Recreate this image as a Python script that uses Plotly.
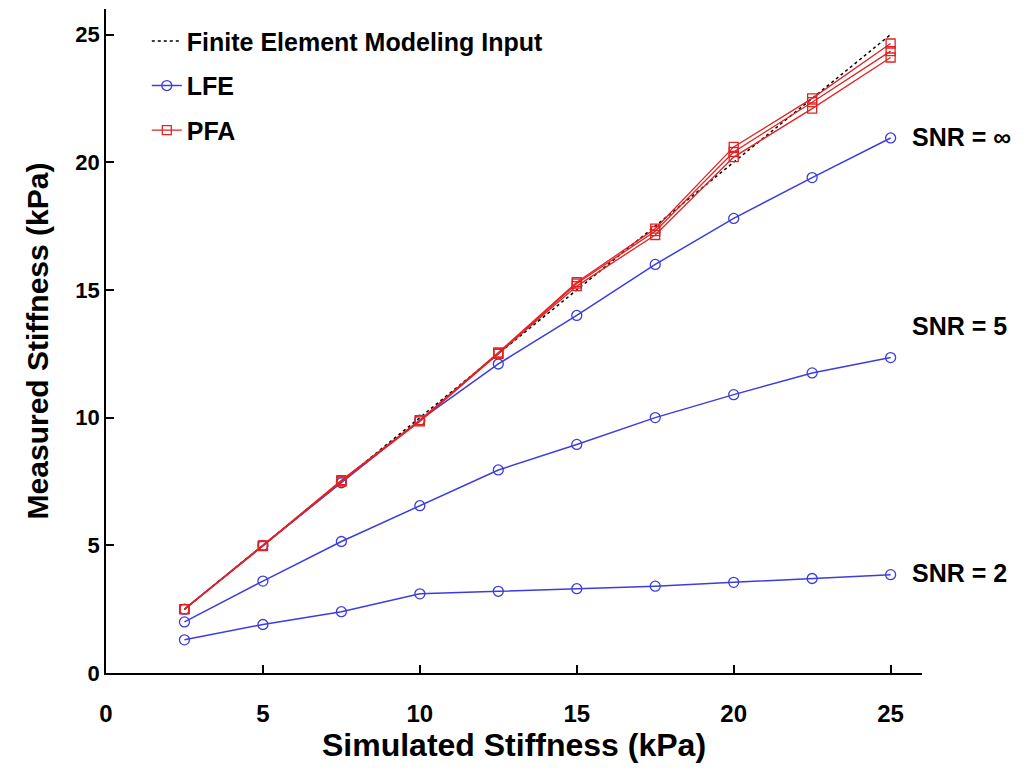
import plotly.graph_objects as go

sim = [2.5, 5, 7.5, 10, 12.5, 15, 17.5, 20, 22.5, 25]
fem_input = [2.5, 5, 7.5, 10, 12.5, 15, 17.5, 20, 22.5, 25]

lfe_inf = [2.5, 5.0, 7.45, 9.9, 12.1, 14.0, 16.0, 17.8, 19.4, 20.95]
lfe_5 = [2.0, 3.6, 5.15, 6.55, 7.95, 8.95, 10.0, 10.9, 11.75, 12.35]
lfe_2 = [1.3, 1.9, 2.4, 3.1, 3.2, 3.3, 3.4, 3.55, 3.7, 3.85]

pfa_inf = [2.5, 5.0, 7.55, 9.9, 12.55, 15.3, 17.4, 20.6, 22.5, 24.65]
pfa_5 = [2.5, 4.98, 7.5, 9.9, 12.5, 15.25, 17.3, 20.4, 22.35, 24.35]
pfa_2 = [2.5, 4.97, 7.5, 9.85, 12.5, 15.15, 17.15, 20.2, 22.1, 24.1]

snr_labels = ["SNR = \u221e", "SNR = 5", "SNR = 2"]
snr_label_y = [21.0, 13.6, 3.9]

tick_vals = [0, 5, 10, 15, 20, 25]

BLUE = "rgb(60,60,225)"
RED = "rgb(225,35,35)"
FONT = "Liberation Sans, Arial, sans-serif"

fig = go.Figure()

fig.add_trace(go.Scatter(
    x=sim, y=fem_input, mode="lines", name="<b>Finite Element Modeling Input</b>",
    line=dict(color="black", width=1.5, dash="dot"), legendgroup="a", legendrank=1))

for i, ys in enumerate([lfe_inf, lfe_5, lfe_2]):
    fig.add_trace(go.Scatter(
        x=sim, y=ys, mode="lines+markers", name="<b>LFE</b>",
        line=dict(color=BLUE, width=1.5),
        marker=dict(symbol="circle-open", size=10, color=BLUE, line=dict(width=1.3)),
        showlegend=(i == 0), legendgroup="b", legendrank=2))

for i, ys in enumerate([pfa_inf, pfa_5, pfa_2]):
    fig.add_trace(go.Scatter(
        x=sim, y=ys, mode="lines+markers", name="<b>PFA</b>",
        line=dict(color=RED, width=1.3),
        marker=dict(symbol="square-open", size=9, color=RED, line=dict(width=1.3)),
        showlegend=(i == 0), legendgroup="c", legendrank=3))

for txt, yy in zip(snr_labels, snr_label_y):
    fig.add_annotation(x=1.0, xref="paper", xanchor="left", xshift=-12,
                       y=yy, yref="y", text="<b>" + txt + "</b>", showarrow=False,
                       font=dict(family=FONT, size=25, color="black"))

fig.update_layout(
    width=1030, height=770,
    margin=dict(l=106, r=108, t=9, b=97),
    paper_bgcolor="white", plot_bgcolor="white",
    font=dict(family=FONT, color="black"),
    showlegend=True,
    legend=dict(x=0.05, y=0.986, xanchor="left", yanchor="top",
                bgcolor="rgba(0,0,0,0)", tracegroupgap=9,
                font=dict(family=FONT, size=25, color="black"),
                traceorder="grouped"),
    xaxis=dict(range=[0, 26], tickvals=tick_vals,
               ticktext=["<b>%d</b>" % v for v in tick_vals],
               ticks="inside", ticklen=8, tickwidth=1.5, tickcolor="black",
               showline=True, linecolor="black", linewidth=1.5,
               showgrid=False, zeroline=False, ticklabelstandoff=18,
               tickfont=dict(family=FONT, size=24),
               title=dict(text="<b>Simulated Stiffness (kPa)</b>",
                          font=dict(family=FONT, size=32), standoff=6)),
    yaxis=dict(range=[0, 26], tickvals=tick_vals,
               ticktext=["<b>%d</b>" % v for v in tick_vals],
               ticks="inside", ticklen=8, tickwidth=1.5, tickcolor="black",
               showline=True, linecolor="black", linewidth=1.5,
               showgrid=False, zeroline=False,
               tickfont=dict(family=FONT, size=22),
               title=dict(text="<b>Measured Stiffness (kPa)</b>",
                          font=dict(family=FONT, size=30), standoff=18)),
)

fig.write_html("out.html")
